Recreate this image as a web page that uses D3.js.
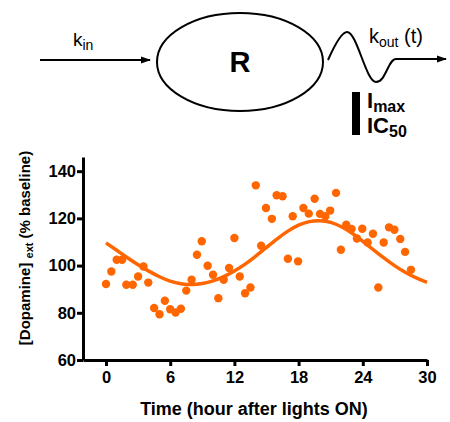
<!DOCTYPE html>
<html>
<head>
<meta charset="utf-8">
<script src="https://cdn.jsdelivr.net/npm/d3@7"></script>
<style>
  body { margin: 0; background: #fff; }
  svg { display: block; }
</style>
</head>
<body>
<div id="chart"></div>
<script>
// observed dopamine values (hours after lights on, % baseline)
const obsTime = [0, 0.5, 1.0, 1.5, 1.9, 2.5, 3.0, 3.5, 3.95, 4.5, 5.0, 5.5, 6.0, 6.5, 7.0, 7.5,
  8.0, 8.5, 8.95, 9.5, 10.0, 10.5, 11.0, 11.5, 12.0, 12.5, 13.0, 13.5, 14.0, 14.5, 14.95,
  15.5, 15.95, 16.5, 17.0, 17.45, 17.95, 18.45, 18.95, 19.5, 20.0, 20.5, 20.95, 21.5, 21.95,
  22.45, 22.95, 23.45, 23.95, 24.45, 24.95, 25.45, 25.95, 26.45, 26.95, 27.5, 27.95, 28.5];
const obsValue = [92.2, 97.5, 102.5, 102.5, 91.9, 91.9, 95.4, 99.6, 92.8, 82.0, 79.4, 85.1, 81.5, 80.1, 81.7, 89.4,
  94.0, 104.6, 110.3, 99.9, 96.1, 86.2, 94.0, 99.0, 111.7, 95.4, 88.3, 90.7, 134.0, 108.4, 124.4,
  119.8, 129.8, 129.4, 102.9, 120.9, 101.8, 124.4, 122.0, 128.3, 121.9, 120.9, 123.3, 130.8, 106.7,
  117.3, 115.5, 111.5, 115.6, 109.8, 113.5, 90.7, 109.8, 116.2, 115.2, 111.3, 105.8, 98.2];

// model fit
const fitTime = [0, 1, 2, 3, 4, 5, 6, 7, 8, 9, 10, 11, 12, 13, 14, 15, 16, 17, 18, 19, 20,
  21, 22, 23, 24, 25, 26, 27, 28, 29, 30];
const fitValue = [109.6, 106.5, 103.3, 100.3, 97.6, 95.2, 93.3, 92.2, 91.8, 92.3, 93.4, 95.2, 97.6,
  100.5, 104.0, 107.7, 111.4, 114.7, 117.3, 118.8, 119.2, 118.5, 116.6, 113.8, 110.3, 106.7,
  103.1, 99.8, 97.0, 94.7, 92.9];

const xTicks = [0, 6, 12, 18, 24, 30];
const yTicks = [60, 80, 100, 120, 140];

const W = 450, H = 422;
const orange = "#ff6600";
const font = "'Liberation Sans', Arial, sans-serif";

const svg = d3.select("#chart").append("svg")
  .attr("width", W).attr("height", H)
  .style("font-family", font);

// ---- model diagram ----
const defs = svg.append("defs");
defs.append("marker")
  .attr("id", "arr")
  .attr("viewBox", "0 0 10 10")
  .attr("refX", 9).attr("refY", 5)
  .attr("markerWidth", 5).attr("markerHeight", 5)
  .attr("orient", "auto")
  .append("path").attr("d", "M0,1.5 L10,5 L0,8.5 Z").attr("fill", "#000");

const diag = svg.append("g").attr("stroke", "#000").attr("fill", "none").attr("stroke-width", 2);
diag.append("line").attr("x1", 40).attr("y1", 60).attr("x2", 150).attr("y2", 60)
  .attr("marker-end", "url(#arr)");
diag.append("ellipse").attr("cx", 240).attr("cy", 62).attr("rx", 83).attr("ry", 49);
diag.append("path")
  .attr("d", "M328,60 C336,42 342,32 347,32 C357,32 366,82 376,82 C386,82 388,59 396,59 L446,59")
  .attr("marker-end", "url(#arr)");
svg.append("rect").attr("x", 352).attr("y", 92).attr("width", 8).attr("height", 43).attr("fill", "#000");

const kin = svg.append("text").attr("x", 73).attr("y", 46).attr("font-size", 19);
kin.append("tspan").text("k");
kin.append("tspan").attr("font-size", 14).attr("dy", 4).text("in");

svg.append("text").attr("x", 240).attr("y", 72).attr("text-anchor", "middle")
  .attr("font-size", 29).attr("font-weight", "bold").text("R");

const kout = svg.append("text").attr("x", 369).attr("y", 43).attr("font-size", 20);
kout.append("tspan").text("k");
kout.append("tspan").attr("font-size", 14).attr("dy", 4).text("out");
kout.append("tspan").attr("dy", -4).text(" (t)");

const imax = svg.append("text").attr("x", 367).attr("y", 108).attr("font-size", 22).attr("font-weight", "bold");
imax.append("tspan").text("I");
imax.append("tspan").attr("font-size", 16).attr("dy", 4).text("max");
const ic = svg.append("text").attr("x", 367).attr("y", 133).attr("font-size", 22).attr("font-weight", "bold");
ic.append("tspan").text("IC");
ic.append("tspan").attr("font-size", 16).attr("dy", 4).text("50");

// ---- scatter plot ----
const x = d3.scaleLinear().domain([-2.15, 30]).range([83, 427]);
const y = d3.scaleLinear().domain([60, 146]).range([360, 157]);

const xAxis = svg.append("g").attr("transform", "translate(0,360)")
  .call(d3.axisBottom(x).tickValues(xTicks).tickSize(6).tickSizeOuter(0).tickPadding(5));
const yAxis = svg.append("g").attr("transform", "translate(83,0)")
  .call(d3.axisLeft(y).tickValues(yTicks).tickSize(6).tickSizeOuter(0).tickPadding(1));

[xAxis, yAxis].forEach(a => {
  a.select(".domain").attr("stroke-width", 3).attr("stroke", "#000");
  a.selectAll(".tick line").attr("stroke-width", 3).attr("stroke", "#000");
  a.selectAll(".tick text").attr("font-size", 16.5).attr("font-weight", "bold")
    .attr("font-family", font).attr("fill", "#000");
});

const line = d3.line().x((d, i) => x(fitTime[i])).y(d => y(d)).curve(d3.curveBasis);
svg.append("path").datum(fitValue)
  .attr("d", line).attr("fill", "none").attr("stroke", orange).attr("stroke-width", 3.5);

svg.append("g").selectAll("circle").data(obsValue).join("circle")
  .attr("cx", (d, i) => x(obsTime[i]))
  .attr("cy", d => y(d))
  .attr("r", 4.2)
  .attr("fill", orange);

// axis titles
svg.append("text").attr("x", 254).attr("y", 415).attr("text-anchor", "middle")
  .attr("font-size", 18).attr("font-weight", "bold").text("Time (hour after lights ON)");

const yl = svg.append("text").attr("transform", "translate(30,248) rotate(-90)")
  .attr("text-anchor", "middle").attr("font-size", 15).attr("font-weight", "bold");
yl.append("tspan").text("[Dopamine] ");
yl.append("tspan").attr("font-size", 11).attr("dy", 3).text("ext");
yl.append("tspan").attr("dy", -3).text(" (% baseline)");
</script>
</body>
</html>
